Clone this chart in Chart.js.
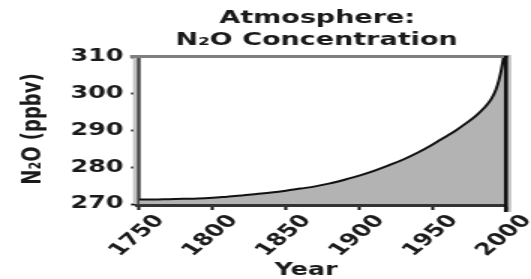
<!DOCTYPE html>
<html>
<head>
<meta charset="utf-8">
<script src="https://cdn.jsdelivr.net/npm/chart.js@4"></script>
<style>
  html, body { margin: 0; padding: 0; background: #fff; overflow: hidden; }
  /* the original figure is stretched sideways, so draw narrow and widen */
  #wrap { width: 354px; height: 279px; transform: scaleX(1.5); transform-origin: 0 0; }
</style>
</head>
<body>
<div id="wrap"><canvas id="myChart" width="354" height="279"></canvas></div>
<script>
// N2O concentration (ppbv)
var years = [1750, 1760, 1770, 1780, 1790, 1800, 1810, 1820, 1830, 1840, 1850, 1860, 1870, 1880, 1890,
             1900, 1910, 1920, 1930, 1940, 1950, 1955, 1960, 1965, 1970, 1975, 1980, 1985, 1990, 1993, 1995, 1997, 2000];
var n2o = [271.2, 271.2, 271.3, 271.4, 271.5, 271.7, 272.0, 272.3, 272.7, 273.1, 273.6, 274.2, 274.8, 275.6, 276.6,
           277.7, 279.0, 280.5, 282.1, 284.0, 286.2, 287.4, 288.6, 289.8, 291.2, 292.6, 294.2, 296.1, 298.6, 301.0, 303.5, 307.0, 314.0];
var xTicks = [1750, 1800, 1850, 1900, 1950, 2000];
var yTicks = [270, 280, 290, 300, 310];

var titleLines = ['Atmosphere:', 'N₂O Concentration'];
var xTitle = 'Year';
var yTitle = 'N₂O (ppbv)';

var font = 'DejaVu Sans';
var textColor = '#1a1a1a';

var points = years.map(function (y, i) {
    return { x: y, y: n2o[i] };
});

// titles and the shaded frame round the plot
var framePlugin = {
    id: 'frame',
    afterDraw: function (chart) {
        var ctx = chart.ctx;
        var a = chart.chartArea;
        ctx.save();
        // light shadow strips
        ctx.fillStyle = '#c4c4c4';
        ctx.fillRect(a.left - 4, a.top, 2.7, a.bottom - a.top);
        ctx.fillRect(a.right + 1.3, a.top - 2, 2.2, a.bottom - a.top + 10);
        // top border
        ctx.fillStyle = '#7f7f7f';
        ctx.fillRect(a.left - 6, a.top - 2, a.right - a.left + 7.5, 3);
        // right border
        ctx.fillStyle = '#111';
        ctx.fillRect(a.right - 1.4, a.top - 1, 2.7, a.bottom - a.top + 9);

        ctx.fillStyle = textColor;
        ctx.textAlign = 'center';
        ctx.textBaseline = 'alphabetic';
        ctx.font = 'bold 18px ' + font;
        ctx.fillText(titleLines[0], 211.5, 23);
        ctx.fillText(titleLines[1], 211, 45);

        ctx.font = 'bold 17px ' + font;
        ctx.fillText(xTitle, 204, 275);

        ctx.translate(26.5, 129);
        ctx.rotate(-Math.PI / 2);
        ctx.font = 'bold 18px ' + font;
        ctx.fillText(yTitle, 0, 0);
        ctx.restore();
    }
};

var ctx = document.getElementById('myChart').getContext('2d');

var chart = new Chart(ctx, {
    type: 'line',
    data: {
        datasets: [{
            data: points,
            borderColor: '#111',
            borderWidth: 2,
            backgroundColor: '#b3b3b3',
            fill: 'start',
            pointRadius: 0,
            cubicInterpolationMode: 'monotone'
        }]
    },
    options: {
        responsive: false,
        animation: false,
        layout: { padding: { top: 57, right: 10.7, left: 0, bottom: 0 } },
        plugins: {
            legend: { display: false },
            title: { display: false },
            tooltip: { enabled: false }
        },
        scales: {
            x: {
                type: 'linear',
                min: 1750,
                max: 2000,
                afterFit: function (scale) { scale.height = 75; },
                afterBuildTicks: function (scale) {
                    scale.ticks = xTicks.map(function (v) { return { value: v }; });
                },
                border: { color: '#333', width: 5 },
                grid: { drawOnChartArea: false, tickLength: 6, tickWidth: 2, color: '#111' },
                ticks: {
                    minRotation: 50,
                    maxRotation: 50,
                    autoSkip: false,
                    padding: 1,
                    labelOffset: 14,
                    color: textColor,
                    font: { family: font, size: 17, weight: 'bold' },
                    callback: function (v) { return String(v); }
                }
            },
            y: {
                min: 270,
                max: 310,
                afterFit: function (scale) { scale.width = 92.7; },
                afterBuildTicks: function (scale) {
                    scale.ticks = yTicks.map(function (v) { return { value: v }; });
                },
                border: { color: '#404040', width: 2.7 },
                grid: { drawOnChartArea: false, tickLength: 5.3, tickWidth: 2, color: '#111' },
                ticks: {
                    padding: 5,
                    color: textColor,
                    font: { family: font, size: 17, weight: 'bold' }
                }
            }
        }
    },
    plugins: [framePlugin]
});
</script>
</body>
</html>
